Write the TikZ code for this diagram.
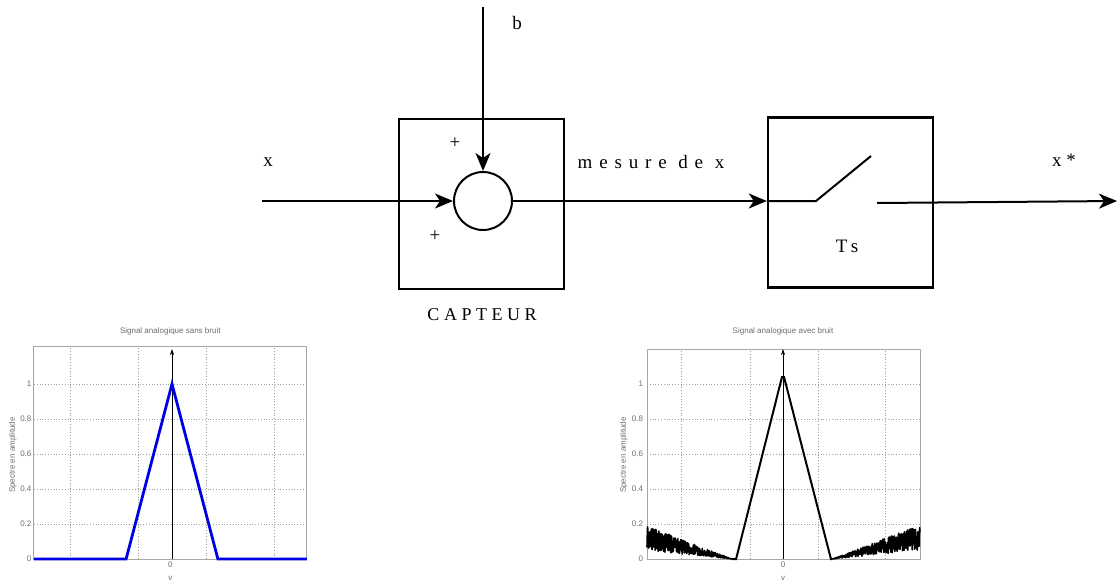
\documentclass[tikz,border=0pt]{standalone}
\usepackage{fontspec}
\setmainfont{Liberation Serif}
\newfontfamily\spacedfont[LetterSpace=25]{Liberation Serif}
\newfontfamily\widefont[LetterSpace=36]{Liberation Serif}
\newfontfamily\plotfont{Liberation Sans}
\usetikzlibrary{arrows.meta}

\tikzset{
  bloc/.style={draw, line width=2.4pt, minimum width=165pt, minimum height=170pt, inner sep=0pt},
  somme/.style={draw, circle, line width=2pt, minimum size=58pt, inner sep=0pt},
  fleche/.style={line width=2pt, -{Stealth[length=18pt,width=15pt,inset=5pt]}},
  lbl/.style={font=\fontsize{19}{19}\spacedfont, inner sep=0pt},
  grille/.style={gray!75, dotted, line width=0.8pt},
  cadre/.style={gray!70, line width=1pt},
  petit/.style={font=\fontsize{8}{9}\plotfont, text=gray!85!black, inner sep=1pt},
  axe/.style={line width=0.6pt, -{Stealth[length=6pt,width=4pt]}}
}

\begin{document}
\begin{tikzpicture}[x=1pt, y=-1pt]
  \useasboundingbox (0,0) rectangle (1117,581);

  % Capteur avec sommateur
  \node[bloc] (capteur) at (481.5,204) {};
  \node[somme] (somme) at (483,201) {};
  \coordinate (xin) at (262,201);
  \coordinate (bin) at (483,7);
  \draw[fleche] (xin) -- (somme.west);
  \draw[fleche] (bin) -- (somme.north);
  \node[lbl] (labx) at (268,162) {x};
  \node[lbl] (labb) at (517,23) {b};
  \node[lbl] (plusa) at (455,143) {+};
  \node[lbl] (plusb) at (435,236) {+};
  \node[lbl, font=\fontsize{18}{18}\spacedfont] (capt) at (482,315) {CAPTEUR};

  % Echantillonneur
  \node[bloc] (echant) at (850.5,202.5) {};
  \coordinate (k1) at (816,201);
  \coordinate (k2) at (871,156);
  \coordinate (k3) at (877,203);
  \coordinate (xout) at (1117,201);
  \draw[fleche] (somme.east) -- (echant.west |- somme.east);
  \draw[line width=2pt] (echant.west |- somme.east) -- (k1) -- (k2);
  \draw[fleche] (k3) -- (xout);
  \node[lbl, font=\fontsize{19}{19}\widefont] (mesure) at (651,162) {mesure de x};
  \node[lbl] (ts) at (847,246) {Ts};
  \node[lbl] (xstar) at (1064,160) {x*};

  % Spectre sans bruit
  \begin{scope}[shift={(172,559)}, x=34pt, y=175pt]
    \foreach \u in {-3,-1,1,3} \draw[grille] (\u,0) -- (\u,1.217);
    \foreach \v in {0.2,0.4,0.6,0.8,1} \draw[grille] (-4.06,\v) -- (3.97,\v);
    \draw[cadre] (-4.06,0) rectangle (3.97,1.217);
    \foreach \v [count=\i] in {0,0.2,0.4,0.6,0.8,1}
      \node[petit, anchor=east] (ga\i) at (-4.1,\v) {\v};
    \draw[axe] (0,0) -- (0,1.2);
    \draw[blue!90!black, line width=2.8pt] (-4.06,0) -- (-1.35,0) -- (0,1) -- (1.35,0) -- (3.97,0);
    \node[petit] (zeroa) at (-0.05,-0.03) {0};
    \node[petit] (nua) at (-0.05,-0.11) {v};
    \node[petit] (titrea) at (-0.05,1.3) {Signal analogique sans bruit};
    \node[petit, rotate=90] (ylaba) at (-4.68,0.594) {Spectre en amplitude};
  \end{scope}

  % Spectre avec bruit
  \begin{scope}[shift={(783,559)}, x=34pt, y=175pt]
    \foreach \u in {-3,-0.97,1.03,3} \draw[grille] (\u,0) -- (\u,1.2);
    \foreach \v in {0.2,0.4,0.6,0.8,1} \draw[grille] (-4,\v) -- (4.03,\v);
    \draw[cadre] (-4,0) rectangle (4.03,1.2);
    \foreach \v [count=\i] in {0,0.2,0.4,0.6,0.8,1}
      \node[petit, anchor=east] (gb\i) at (-4.08,\v) {\v};
    \draw[axe] (0,0) -- (0,1.2);
    \pgfmathsetseed{7}
    \draw[line width=1.6pt, line join=round] plot[domain=-4:-1.5, samples=400]
      (\x,{0.19*(-1.5-\x)/2.5*(0.25+0.75*rnd)});
    \draw[line width=1.6pt, line join=round] plot[domain=1.45:4.03, samples=400]
      (\x,{0.19*(\x-1.45)/2.5*(0.25+0.75*rnd)});
    \draw[line width=2pt] (-1.5,0) -- (-1.38,0) -- (-0.03,1.04) -- (0.03,1.04) -- (1.41,0) -- (1.45,0);
    \node[petit] (zerob) at (0,-0.03) {0};
    \node[petit] (nub) at (0,-0.11) {v};
    \node[petit] (titreb) at (0,1.3) {Signal analogique avec bruit};
    \node[petit, rotate=90] (ylabb) at (-4.68,0.594) {Spectre en amplitude};
  \end{scope}
\end{tikzpicture}
\end{document}
